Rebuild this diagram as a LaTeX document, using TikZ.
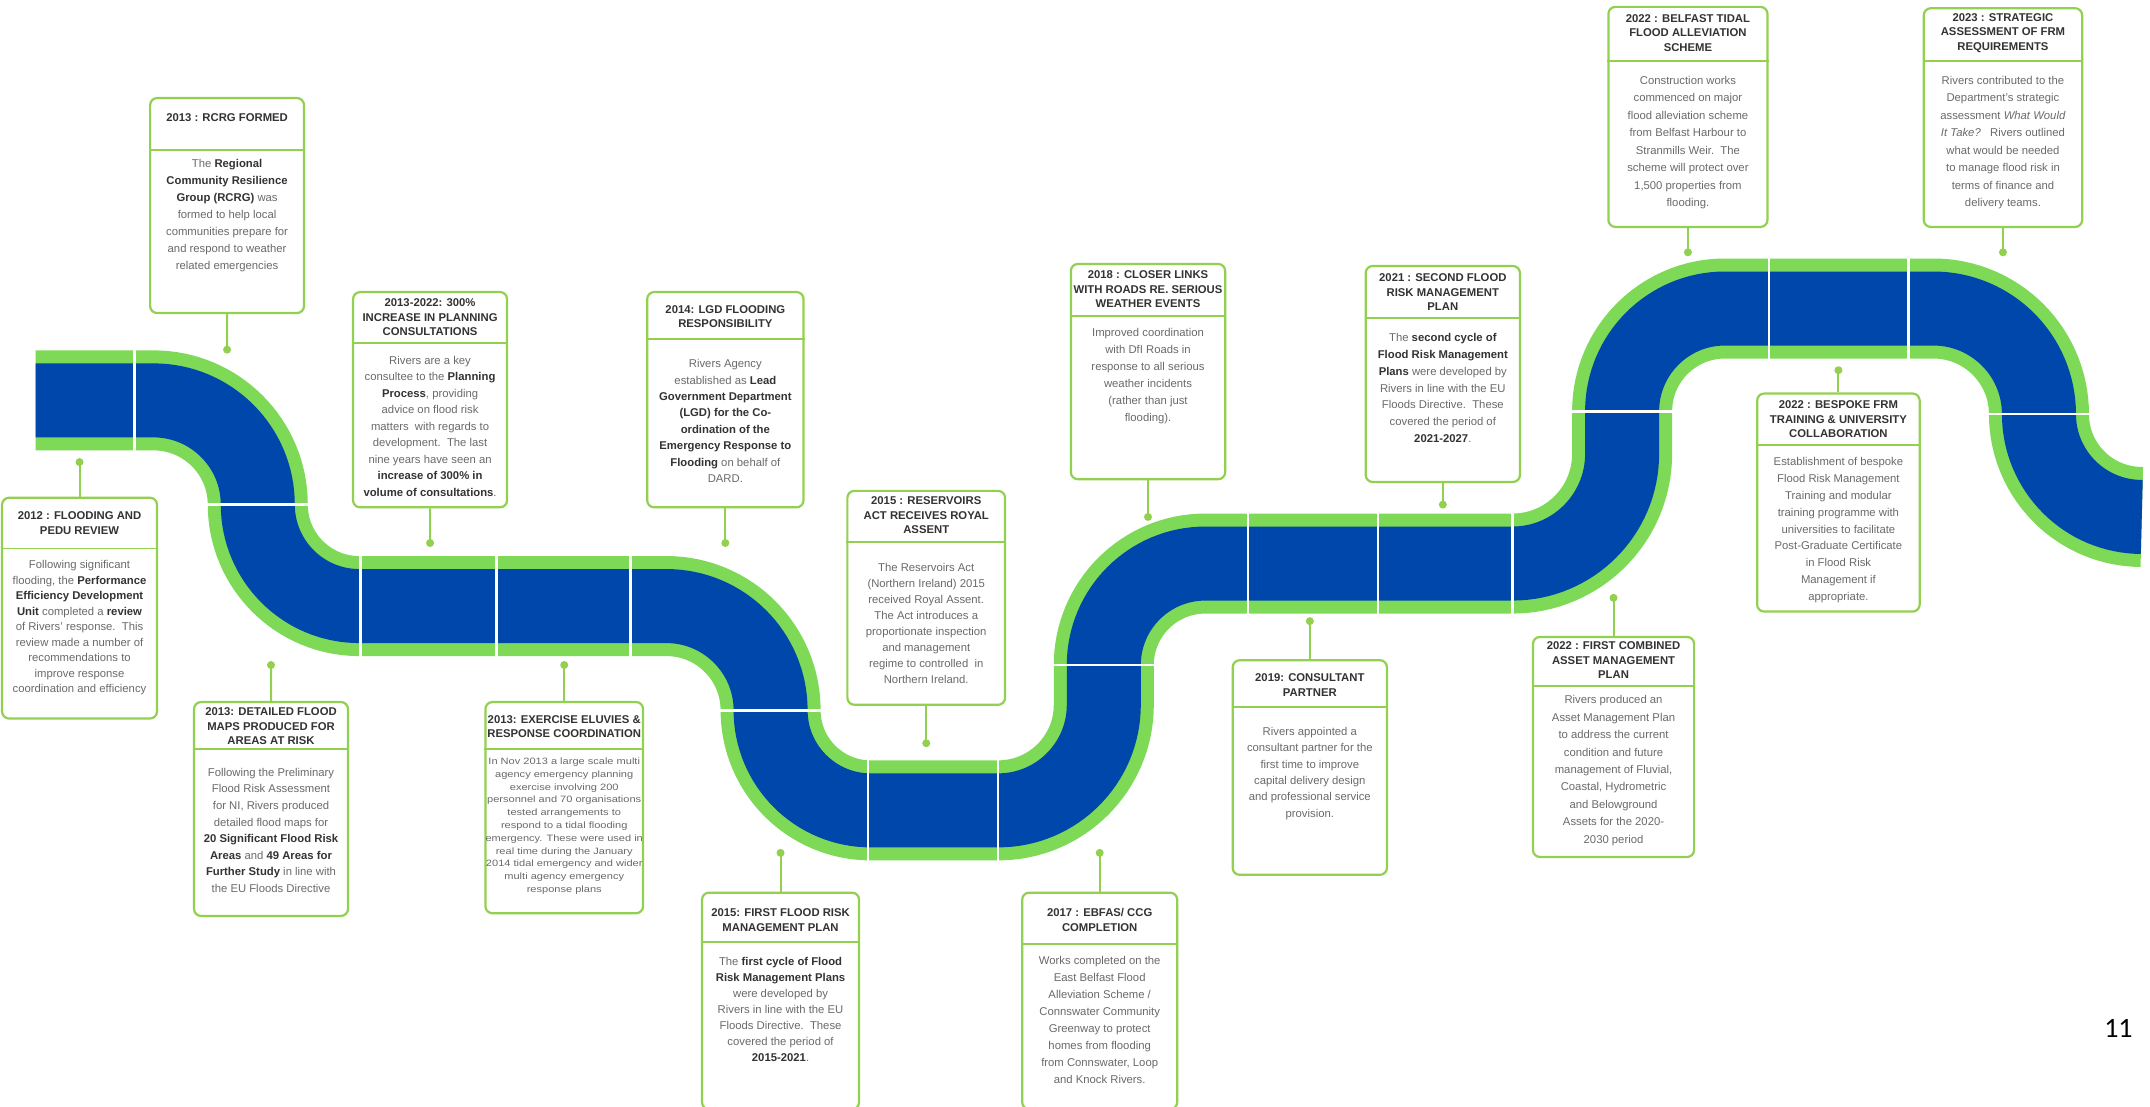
\documentclass[tikz,border=0pt]{standalone}
\usepackage{fontspec}
\setmainfont{Liberation Sans}
\newfontfamily\pagenumfont{Carlito}
\newfontfamily\widefont[FakeStretch=1.2]{Liberation Sans}
\usetikzlibrary{fit}
\definecolor{pipeblue}{HTML}{0047AB}
\definecolor{pipegreen}{HTML}{7ED957}
\definecolor{boxgreen}{HTML}{92D050}
\definecolor{ttlgray}{HTML}{333333}
\definecolor{txtgray}{HTML}{6A6A6A}
\newcommand{\kb}[1]{{\color{ttlgray}\bfseries #1}}
\begin{document}
\begin{tikzpicture}[x=1.371pt, y=-1.371pt,
  tlbox/.style={draw=boxgreen, line width=2.2pt, rounded corners=7pt, fill=white, inner sep=0pt},
  hdr/.style={draw=boxgreen, line width=1.8pt},
  ttl/.style={align=center, inner sep=0pt, text=ttlgray, font=\fontsize{11.3}{14.5}\selectfont\bfseries},
  bodytxt/.style={align=center, inner sep=0pt, text=txtgray, font=\fontsize{11.3}{#1}\selectfont},
  bodytxt/.default=16,
  conn/.style={draw=boxgreen, line width=2pt},
  dotnode/.style={circle, fill=boxgreen, inner sep=0pt, minimum size=8pt},
  divider/.style={draw=white, line width=2.5pt},
]
\useasboundingbox (0,0) rectangle (1568,807);
\fill[white] (0,0) rectangle (1568,807);

% pipe
\draw[pipeblue, line width=74pt, preaction={draw=pipegreen, line width=100pt}]
 (26,292) -- (112,292)
 arc[start angle=270, end angle=360, radius=76]
 arc[start angle=180, end angle=90, radius=74]
 -- (486,442)
 arc[start angle=270, end angle=360, radius=76]
 arc[start angle=180, end angle=90, radius=73]
 -- (728,591)
 arc[start angle=90, end angle=0, radius=77]
 -- (805,485)
 arc[start angle=180, end angle=270, radius=74]
 -- (1103,411)
 arc[start angle=90, end angle=0, radius=80]
 -- (1183,300)
 arc[start angle=180, end angle=270, radius=75]
 -- (1410,225)
 arc[start angle=270, end angle=360, radius=77]
 arc[start angle=180, end angle=90, radius=75];

\foreach \xx/\yy in {98/292, 263/442, 362/442, 460/442, 633/591, 728/591, 910/411, 1005/411, 1103/411, 1290/225, 1392/225}
  \draw[divider] (\xx,\yy-37) -- (\xx,\yy+37);
\foreach \xx/\yy in {188/368, 562/518, 805/485, 1183/300, 1487/302}
  \draw[divider] (\xx-37,\yy) -- (\xx+37,\yy);

% boxes
\node[tlbox, fit={(1.5,363) (114.5,524)}] (b1) {};
\draw[hdr] (b1.west |- 0,400) -- (b1.east |- 0,400);
\node[ttl] (t1) at (58,381.5) {2012 : FLOODING AND\\PEDU REVIEW};
\node[bodytxt=15.5] (p1) at (58,458) {Following significant\\flooding, the \kb{Performance}\\\kb{Efficiency Development}\\\kb{Unit} completed a \kb{review}\\of Rivers' response.\ \ This\\review made a number of\\recommendations to\\improve response\\coordination and efficiency};

\node[tlbox, fit={(109.5,71.5) (221.7,228.3)}] (b2) {};
\draw[hdr] (b2.west |- 0,109.6) -- (b2.east |- 0,109.6);
\node[ttl] (t2) at (165.6,86) {2013 : RCRG FORMED};
\node[bodytxt=17] (p2) at (165.6,157.5) {The \kb{Regional}\\\kb{Community Resilience}\\\kb{Group (RCRG)} was\\formed to help local\\communities prepare for\\and respond to weather\\related emergencies};

\node[tlbox, fit={(141.5,512) (253.8,668)}] (b3) {};
\draw[hdr] (b3.west |- 0,546) -- (b3.east |- 0,546);
\node[ttl] (t3) at (197.65,529.7) {2013: DETAILED FLOOD\\MAPS PRODUCED FOR\\AREAS AT RISK};
\node[bodytxt=16.6] (p3) at (197.65,605.5) {Following the Preliminary\\Flood Risk Assessment\\for NI, Rivers produced\\detailed flood maps for\\\kb{20 Significant Flood Risk}\\\kb{Areas} and \kb{49 Areas for}\\\kb{Further Study} in line with\\the EU Floods Directive};

\node[tlbox, fit={(257.5,213) (369.8,370)}] (b4) {};
\draw[hdr] (b4.west |- 0,250) -- (b4.east |- 0,250);
\node[ttl] (t4) at (313.65,231.6) {2013-2022: 300\%\\INCREASE IN PLANNING\\CONSULTATIONS};
\node[bodytxt=16.5] (p4) at (313.65,310.7) {Rivers are a key\\consultee to the \kb{Planning}\\\kb{Process}, providing\\advice on flood risk\\matters\ \ with regards to\\development.\ \ The last\\nine years have seen an\\\kb{increase of 300\% in}\\\kb{volume of consultations}.};

\node[tlbox, fit={(354,512) (469,666)}] (b5) {};
\draw[hdr] (b5.west |- 0,546) -- (b5.east |- 0,546);
\node[ttl] (t5) at (411.5,530) {2013: EXERCISE ELUVIES \&\\RESPONSE COORDINATION};
\node[bodytxt=12.8, font=\widefont\fontsize{9.2}{12.8}\selectfont] (p5) at (411.5,602.5) {In Nov 2013 a large scale multi\\agency emergency planning\\exercise involving 200\\personnel and 70 organisations\\tested arrangements to\\respond to a tidal flooding\\emergency. These were used in\\real time during the January\\2014 tidal emergency and wider\\multi agency emergency\\response plans};

\node[tlbox, fit={(472,213) (586,370)}] (b6) {};
\draw[hdr] (b6.west |- 0,247) -- (b6.east |- 0,247);
\node[ttl] (t6) at (529,231) {2014: LGD FLOODING\\RESPONSIBILITY};
\node[bodytxt=16.4] (p6) at (529,307) {Rivers Agency\\established as \kb{Lead}\\\kb{Government Department}\\\kb{(LGD) for the Co-}\\\kb{ordination of the}\\\kb{Emergency Response to}\\\kb{Flooding} on behalf of\\DARD.};

\node[tlbox, fit={(618,358) (733,514)}] (b7) {};
\draw[hdr] (b7.west |- 0,395) -- (b7.east |- 0,395);
\node[ttl] (t7) at (675.5,376) {2015 : RESERVOIRS\\ACT RECEIVES ROYAL\\ASSENT};
\node[bodytxt=16] (p7) at (675.5,455) {The Reservoirs Act\\(Northern Ireland) 2015\\received Royal Assent.\\The Act introduces a\\proportionate inspection\\and management\\regime to controlled\ \ in\\Northern Ireland.};

\node[tlbox, fit={(512,651) (626.5,809)}] (b8) {};
\draw[hdr] (b8.west |- 0,687) -- (b8.east |- 0,687);
\node[ttl] (t8) at (569.25,671) {2015: FIRST FLOOD RISK\\MANAGEMENT PLAN};
\node[bodytxt=16] (p8) at (569.25,736) {The \kb{first cycle of Flood}\\\kb{Risk Management Plans}\\were developed by\\Rivers in line with the EU\\Floods Directive.\ \ These\\covered the period of\\\kb{2015-2021}.};

\node[tlbox, fit={(745.5,651) (858.5,809)}] (b9) {};
\draw[hdr] (b9.west |- 0,688.5) -- (b9.east |- 0,688.5);
\node[ttl] (t9) at (802,671) {2017 : EBFAS/ CCG\\COMPLETION};
\node[bodytxt=17] (p9) at (802,744) {Works completed on the\\East Belfast Flood\\Alleviation Scheme /\\Connswater Community\\Greenway to protect\\homes from flooding\\from Connswater, Loop\\and Knock Rivers.};

\node[tlbox, fit={(781,192.5) (893.5,349.5)}] (b10) {};
\draw[hdr] (b10.west |- 0,230.5) -- (b10.east |- 0,230.5);
\node[ttl] (t10) at (837.25,211) {2018 : CLOSER LINKS\\WITH ROADS RE. SERIOUS\\WEATHER EVENTS};
\node[bodytxt=17] (p10) at (837.25,274.6) {Improved coordination\\with DfI Roads in\\response to all serious\\weather incidents\\(rather than just\\flooding).};

\node[tlbox, fit={(996,194) (1108.5,351.5)}] (b11) {};
\draw[hdr] (b11.west |- 0,232) -- (b11.east |- 0,232);
\node[ttl] (t11) at (1052.25,213) {2021 : SECOND FLOOD\\RISK MANAGEMENT\\PLAN};
\node[bodytxt=16.7] (p11) at (1052.25,283) {The \kb{second cycle of}\\\kb{Flood Risk Management}\\\kb{Plans} were developed by\\Rivers in line with the EU\\Floods Directive.\ \ These\\covered the period of\\\kb{2021-2027}.};

\node[tlbox, fit={(899,481.5) (1011.5,638)}] (b12) {};
\draw[hdr] (b12.west |- 0,515.7) -- (b12.east |- 0,515.7);
\node[ttl] (t12) at (955.25,499.6) {2019: CONSULTANT\\PARTNER};
\node[bodytxt=16.4] (p12) at (955.25,564) {Rivers appointed a\\consultant partner for the\\first time to improve\\capital delivery design\\and professional service\\provision.};

\node[tlbox, fit={(1118,464.5) (1235.5,625)}] (b13) {};
\draw[hdr] (b13.west |- 0,500) -- (b13.east |- 0,500);
\node[ttl] (t13) at (1176.75,481.5) {2022 : FIRST COMBINED\\ASSET MANAGEMENT\\PLAN};
\node[bodytxt=17.4] (p13) at (1176.75,562) {Rivers produced an\\Asset Management Plan\\to address the current\\condition and future\\management of Fluvial,\\Coastal, Hydrometric\\and Belowground\\Assets for the 2020-\\2030 period};

\node[tlbox, fit={(1173,5) (1289,165.5)}] (b14) {};
\draw[hdr] (b14.west |- 0,44.5) -- (b14.east |- 0,44.5);
\node[ttl] (t14) at (1231,24) {2022 : BELFAST TIDAL\\FLOOD ALLEVIATION\\SCHEME};
\node[bodytxt=17.5] (p14) at (1231,104) {Construction works\\commenced on major\\flood alleviation scheme\\from Belfast Harbour to\\Stranmills Weir.\ \ The\\scheme will protect over\\1,500 properties from\\flooding.};

\node[tlbox, fit={(1403,6) (1518.5,165.5)}] (b15) {};
\draw[hdr] (b15.west |- 0,44.5) -- (b15.east |- 0,44.5);
\node[ttl] (t15) at (1460.75,24) {2023 : STRATEGIC\\ASSESSMENT OF FRM\\REQUIREMENTS};
\node[bodytxt=17.5] (p15) at (1460.75,104) {Rivers contributed to the\\Department's strategic\\assessment \textit{What Would}\\\textit{It Take?}\ \ \ Rivers outlined\\what would be needed\\to manage flood risk in\\terms of finance and\\delivery teams.};

\node[tlbox, fit={(1281.5,287) (1400,446)}] (b16) {};
\draw[hdr] (b16.west |- 0,324.5) -- (b16.east |- 0,324.5);
\node[ttl] (t16) at (1340.75,306) {2022 : BESPOKE FRM\\TRAINING \& UNIVERSITY\\COLLABORATION};
\node[bodytxt=16.8] (p16) at (1340.75,386.6) {Establishment of bespoke\\Flood Risk Management\\Training and modular\\training programme with\\universities to facilitate\\Post-Graduate Certificate\\in Flood Risk\\Management if\\appropriate.};

% connectors
\node[dotnode] (d1) at (58,337) {};
\node[dotnode] (d2) at (165.6,255) {};
\node[dotnode] (d3) at (197.65,485) {};
\node[dotnode] (d4) at (313.65,396) {};
\node[dotnode] (d5) at (411.5,485) {};
\node[dotnode] (d6) at (529,396) {};
\node[dotnode] (d7) at (675.5,542) {};
\node[dotnode] (d8) at (569.25,622) {};
\node[dotnode] (d9) at (802,622) {};
\node[dotnode] (d10) at (837.25,377) {};
\node[dotnode] (d11) at (1052.25,368) {};
\node[dotnode] (d12) at (955.25,453) {};
\node[dotnode] (d13) at (1176.75,436) {};
\node[dotnode] (d14) at (1231,184) {};
\node[dotnode] (d15) at (1460.75,184) {};
\node[dotnode] (d16) at (1340.75,270) {};
\draw[conn] (b1.north) -- (d1.center);
\draw[conn] (b2.south) -- (d2.center);
\draw[conn] (b3.north) -- (d3.center);
\draw[conn] (b4.south) -- (d4.center);
\draw[conn] (b5.north) -- (d5.center);
\draw[conn] (b6.south) -- (d6.center);
\draw[conn] (b7.south) -- (d7.center);
\draw[conn] (b8.north) -- (d8.center);
\draw[conn] (b9.north) -- (d9.center);
\draw[conn] (b10.south) -- (d10.center);
\draw[conn] (b11.south) -- (d11.center);
\draw[conn] (b12.north) -- (d12.center);
\draw[conn] (b13.north) -- (d13.center);
\draw[conn] (b14.south) -- (d14.center);
\draw[conn] (b15.south) -- (d15.center);
\draw[conn] (b16.north) -- (d16.center);

\node[font=\pagenumfont\fontsize{28}{30}\selectfont, inner sep=0pt] (pg) at (1545,750) {11};
\end{tikzpicture}
\end{document}
